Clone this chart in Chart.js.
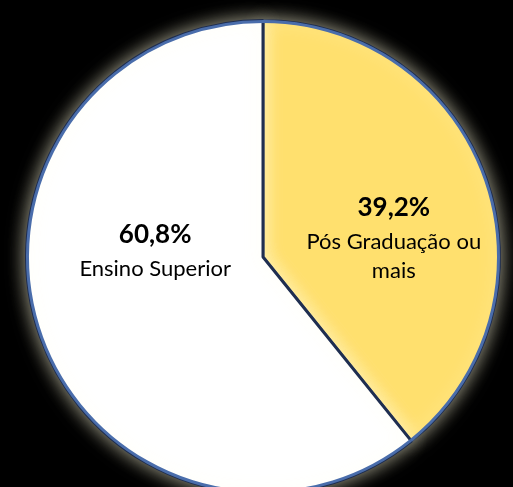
<!DOCTYPE html>
<html lang="pt">
<head>
  <meta charset="UTF-8" />
  <title>Escolaridade</title>
  <script src="https://cdn.jsdelivr.net/npm/chart.js"></script>
  <style>
    html, body { margin: 0; padding: 0; background: #000; overflow: hidden; }
    #wrap { position: absolute; left: 0; top: 0; width: 513px; height: 500px; }
  </style>
</head>
<body>

<div id="wrap">
  <canvas id="pieChart" width="513" height="500"></canvas>
</div>

<script>
  // dados
  const categorias = [['Pós Graduação ou', 'mais'], ['Ensino Superior']];
  const valores = [39.2, 60.8];
  const rotulosPct = ['39,2%', '60,8%'];

  const cores = ['#ffe06e', '#ffffff'];
  const sombras = ['#d6b84e', '#c4c8d2'];

  // posição do texto (fração do raio, a partir do centro)
  const ancoras = [[0.553, -0.207], [-0.456, -0.093]];

  function preenchimento(c) {
    const arc = c.element;
    if (!arc || !arc.outerRadius) return cores[c.dataIndex];
    const g = c.chart.ctx.createRadialGradient(arc.x, arc.y, 0, arc.x, arc.y, arc.outerRadius);
    g.addColorStop(0, cores[c.dataIndex]);
    g.addColorStop(0.94, cores[c.dataIndex]);
    g.addColorStop(1, sombras[c.dataIndex]);
    return g;
  }

  const brilho = {
    id: 'brilho',
    beforeDatasetsDraw(chart) {
      const ctx = chart.ctx;
      ctx.save();
      ctx.shadowColor = 'rgba(255, 252, 220, 0.65)';
      ctx.shadowBlur = 18;
    },
    afterDatasetsDraw(chart) {
      const ctx = chart.ctx;
      ctx.restore();
      // contorno externo azul
      const arcs = chart.getDatasetMeta(0).data;
      ctx.save();
      ctx.strokeStyle = '#4a6dab';
      ctx.lineWidth = 3;
      arcs.forEach(arc => {
        ctx.beginPath();
        ctx.arc(arc.x, arc.y, arc.outerRadius - 1, arc.startAngle, arc.endAngle);
        ctx.stroke();
      });
      ctx.restore();
    }
  };

  const rotulos = {
    id: 'rotulos',
    afterDraw(chart) {
      const ctx = chart.ctx;
      const arcs = chart.getDatasetMeta(0).data;
      ctx.save();
      ctx.fillStyle = '#000';
      ctx.textAlign = 'center';
      ctx.textBaseline = 'middle';
      arcs.forEach((arc, i) => {
        const x = arc.x + ancoras[i][0] * arc.outerRadius;
        let y = arc.y + ancoras[i][1] * arc.outerRadius;
        ctx.font = 'bold 26px Lato';
        ctx.fillText(rotulosPct[i], x, y);
        y += 34;
        ctx.font = '22px Lato';
        categorias[i].forEach(linha => {
          ctx.fillText(linha, x, y);
          y += 29;
        });
      });
      ctx.restore();
    }
  };

  const ctx = document.getElementById('pieChart').getContext('2d');

  new Chart(ctx, {
    type: 'pie',
    data: {
      labels: categorias,
      datasets: [{
        data: valores,
        backgroundColor: preenchimento,
        borderColor: '#1f2e50',
        borderWidth: 3
      }]
    },
    options: {
      responsive: false,
      animation: false,
      layout: { padding: { left: 25, right: 12, top: 19, bottom: 5 } },
      plugins: {
        legend: { display: false },
        tooltip: { enabled: false }
      }
    },
    plugins: [brilho, rotulos]
  });
</script>

</body>
</html>
